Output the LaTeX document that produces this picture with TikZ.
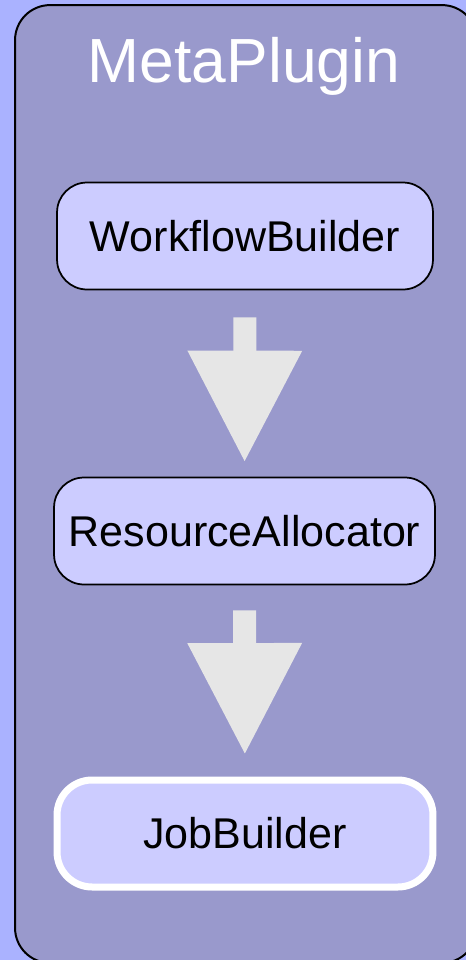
\documentclass[tikz,border=0pt]{standalone}
\usepackage{fontspec}
\setmainfont{Liberation Sans}
\usepackage{tikz}
\usetikzlibrary{arrows.meta}
\definecolor{pagebg}{RGB}{170,178,255}
\definecolor{pluginbg}{RGB}{153,153,204}
\definecolor{stagebg}{RGB}{204,204,255}
\definecolor{flowgray}{RGB}{230,230,230}

\begin{document}
\begin{tikzpicture}[x=0.02cm, y=-0.02cm,
    stage/.style={draw=black, line width=0.035cm, rounded corners=0.6cm,
      fill=stagebg, minimum width=7.52cm, minimum height=2.14cm, inner sep=0pt,
      font=\fontsize{24.5}{30}\selectfont},
    flow/.style={draw=flowgray, line width=0.46cm,
      -{Triangle[length=2.24cm, width=2.16cm]}}]
  \fill[pagebg] (0,0) rectangle (466,960);
  \useasboundingbox (0,0) rectangle (466,960);

  % container
  \node[draw=black, line width=0.04cm, rounded corners=0.7cm, fill=pluginbg,
        minimum width=9.24cm, minimum height=19.16cm, inner sep=0pt]
    (plugin) at (246,484) {};
  \node[anchor=base, text=white, inner sep=0pt,
        font=\fontsize{35.5}{42}\selectfont]
    (title) at (244,82) {MetaPlugin};

  % stages
  \node[stage] (wf) at (245,236) {WorkflowBuilder};
  \node[stage, minimum width=7.62cm] (ra) at (244.5,531) {ResourceAllocator};
  \node[stage, draw=white, line width=0.14cm, rounded corners=0.7cm]
    (jb) at (245,833.5) {JobBuilder};

  \draw[flow, shorten <=0.54cm, shorten >=0.28cm] (wf) -- (ra);
  \draw[flow, shorten <=0.5cm, shorten >=0.43cm] (ra) -- (jb);
\end{tikzpicture}
\end{document}
